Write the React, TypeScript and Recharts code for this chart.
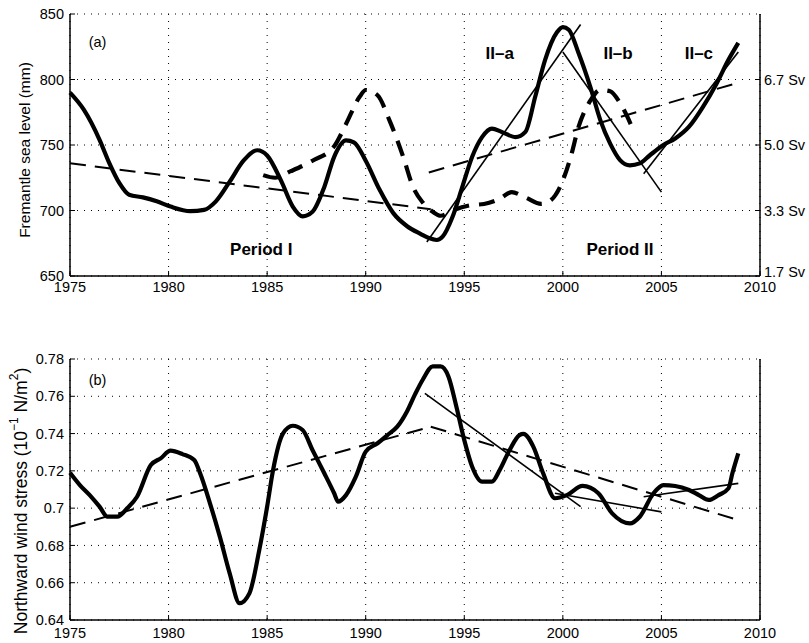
import {
  LineChart,
  Line,
  XAxis,
  YAxis,
  CartesianGrid,
  ReferenceDot,
} from 'recharts';

// (a) Fremantle sea level, smoothed (mm)
const seaYears = [
  1975.0, 1975.7, 1976.5, 1977.0, 1977.5, 1978.0, 1978.7, 1979.4, 1980.1, 1981.1,
  1981.8, 1982.4, 1983.1, 1983.8, 1984.5, 1985.0, 1985.7, 1986.3, 1986.8, 1987.3,
  1987.9, 1988.4, 1989.0, 1989.4, 1990.0, 1990.7, 1991.4, 1992.1, 1992.8, 1993.2,
  1993.6, 1993.9, 1994.4, 1994.9, 1995.4, 1995.9, 1996.4, 1996.9, 1997.6, 1998.1,
  1998.6, 1999.1, 1999.7, 2000.0, 2000.3, 2000.8, 2001.4, 2001.9, 2002.4, 2002.9,
  2003.4, 2003.9, 2004.4, 2005.1, 2005.7, 2006.4, 2007.1, 2007.8, 2008.4, 2008.9,
];
const seaLevel = [
  790, 777, 754, 736, 721, 712, 710, 707, 703, 699.5,
  700.5, 707, 722, 738, 746, 742, 723, 703, 695.5, 699,
  718, 741, 753.5, 752, 738, 716, 698, 688, 682, 679,
  677.5, 680, 695, 718, 741, 756, 762.5, 760, 756, 760,
  787, 815, 836, 840, 838, 820, 794, 769, 751, 738.5,
  734.5, 736, 742, 750, 755, 764, 779, 797, 815, 828,
];

// (a) transport, thick dashed, read against the right (Sv) axis
const transYears = [
  1984.8, 1985.4, 1986.2, 1987.3, 1988.4, 1989.0, 1989.7, 1990.0, 1990.6, 1991.2,
  1991.9, 1992.4, 1992.9, 1993.4, 1993.8, 1994.4, 1995.3, 1996.0, 1996.8, 1997.4,
  1998.1, 1998.9, 1999.4, 2000.0, 2000.4, 2000.8, 2001.4, 2001.9, 2002.4, 2002.9,
  2003.5,
];
const transport = [
  727, 725, 730, 738, 749, 766, 787, 792, 788, 769,
  741, 718, 706, 699, 696, 700, 704, 705, 709, 714,
  710, 705, 708, 723, 741, 764, 784, 792, 791, 782,
  764,
];

// (a) trend lines
const seaTrendIYears = [1975, 1993.3];
const seaTrendI = [736, 701];
const seaTrendIIYears = [1993.2, 2009];
const seaTrendII = [729, 798];
const seaFitAYears = [1993.1, 2000.9];
const seaFitA = [676, 842];
const seaFitBYears = [2000, 2005];
const seaFitB = [821, 714];
const seaFitCYears = [2004.1, 2008.9];
const seaFitC = [728, 821];

// (b) northward wind stress
const windYears = [
  1975.0, 1975.5, 1976.0, 1976.5, 1976.9, 1977.4, 1977.9, 1978.4, 1979.1, 1979.6,
  1980.1, 1980.7, 1981.3, 1981.6, 1982.1, 1982.6, 1983.1, 1983.6, 1984.1, 1984.6,
  1985.0, 1985.3, 1985.8, 1986.3, 1986.8, 1987.3, 1987.9, 1988.4, 1988.6, 1989.0,
  1989.5, 1990.0, 1990.6, 1991.1, 1991.6, 1992.1, 1992.5, 1992.9, 1993.4, 1993.8,
  1994.2, 1994.6, 1995.0, 1995.4, 1995.9, 1996.4, 1996.8, 1997.3, 1997.8, 1998.0,
  1998.5, 1999.0, 1999.6, 2000.2, 2001.0, 2001.8, 2002.5, 2003.4, 2003.9, 2004.6,
  2005.1, 2005.7, 2006.4, 2006.9, 2007.4, 2007.9, 2008.4, 2008.6, 2008.9,
];
const windStress = [
  0.719, 0.7124, 0.707, 0.7008, 0.6954, 0.6954, 0.6999, 0.7061, 0.7231, 0.7267,
  0.7308, 0.729, 0.7258, 0.7187, 0.7026, 0.6847, 0.665, 0.649, 0.6543, 0.6775,
  0.7008, 0.7204, 0.74, 0.7442, 0.7419, 0.7312, 0.7187, 0.708, 0.7035, 0.707,
  0.7169, 0.7303, 0.7348, 0.7392, 0.7437, 0.752, 0.761, 0.769, 0.776, 0.776,
  0.7705, 0.7544, 0.7365, 0.7222, 0.7142, 0.7142, 0.7205, 0.7312, 0.7392, 0.7398,
  0.733, 0.7187, 0.7053, 0.707, 0.7119, 0.708, 0.6972, 0.6918, 0.6954, 0.708,
  0.7124, 0.7119, 0.7097, 0.707, 0.7044, 0.707, 0.7106, 0.7187, 0.7294,
];

const windTrendIYears = [1975, 1993.3];
const windTrendI = [0.69, 0.7437];
const windTrendIIYears = [1993.3, 2008.9];
const windTrendII = [0.7437, 0.6936];
const windFitAYears = [1993.0, 2000.9];
const windFitA = [0.7616, 0.7008];
const windFitBYears = [1999.6, 2005.0];
const windFitB = [0.708, 0.698];
const windFitCYears = [2004.1, 2008.9];
const windFitC = [0.7061, 0.7133];

const yearTicks = [1975, 1980, 1985, 1990, 1995, 2000, 2005, 2010];
const seaTicks = [650, 700, 750, 800, 850];
const svTicks = [650, 700, 750, 800];
const svLabels = ['1.7 Sv', '3.3 Sv', '5.0 Sv', '6.7 Sv'];
const windTicks = [0.64, 0.66, 0.68, 0.7, 0.72, 0.74, 0.76, 0.78];

const toPoints = (xs: number[], ys: number[]) => xs.map((x, i) => ({ x, v: ys[i] }));

const FONT = '"Liberation Sans", Arial, Helvetica, sans-serif';
const tickStyle = { fill: '#000', fontSize: 14.5 };
const boxLine = { stroke: '#000', strokeWidth: 1.5 };
const inTick = { stroke: '#000', strokeWidth: 1 };
const IN = -5; // matlab style ticks pointing into the box

const TextMark = ({ text, size, bold }: { text: string; size: number; bold?: boolean }) =>
  (props: any) => {
    const vb = props.viewBox || {};
    const cx = (vb.x ?? 0) + (vb.width ?? 0) / 2;
    const cy = (vb.y ?? 0) + (vb.height ?? 0) / 2;
    return (
      <text
        x={cx}
        y={cy}
        textAnchor="middle"
        dominantBaseline="central"
        fontSize={size}
        fontWeight={bold ? 'bold' : 'normal'}
        fill="#000"
      >
        {text}
      </text>
    );
  };

// right hand Sv labels; the lowest one sits a little higher, as in the original
const SvTick = (props: any) => {
  const v = props.payload?.value;
  const label = svLabels[svTicks.indexOf(v)] ?? '';
  return (
    <text x={props.x} y={props.y + (v === 650 ? -4 : 0)} dy="0.355em" textAnchor="start" fontSize={14.5} fill="#000">
      {label}
    </text>
  );
};

const thick = { stroke: '#000', strokeWidth: 4.2, dot: false, isAnimationActive: false, strokeLinejoin: 'round' as const };
const thin = { stroke: '#000', strokeWidth: 1.6, dot: false, isAnimationActive: false, type: 'linear' as const };

const SeaPanel = () => (
  <LineChart width={809} height={300} margin={{ top: 14, right: 0, left: 0, bottom: 0 }}>
    <CartesianGrid strokeDasharray="1 6" stroke="#000" />
    <XAxis
      dataKey="x"
      type="number"
      domain={[1975, 2010]}
      ticks={yearTicks}
      interval={0}
      height={24}
      tickSize={IN}
      tickMargin={11}
      tick={tickStyle}
      tickLine={inTick}
      axisLine={boxLine}
      allowDuplicatedCategory={false}
    />
    <XAxis
      xAxisId="t"
      orientation="top"
      dataKey="x"
      type="number"
      domain={[1975, 2010]}
      ticks={yearTicks}
      interval={0}
      height={0}
      tickSize={IN}
      tick={false}
      tickLine={inTick}
      axisLine={boxLine}
    />
    <YAxis
      type="number"
      domain={[650, 850]}
      ticks={seaTicks}
      interval={0}
      width={70}
      tickSize={IN}
      tickMargin={11}
      tick={tickStyle}
      tickLine={inTick}
      axisLine={boxLine}
      label={() => (
        <text x={24} y={150} transform="rotate(-90 24 150)" textAnchor="middle" dominantBaseline="central" fontSize={15.5} fill="#000">
          Fremantle sea level (mm)
        </text>
      )}
    />
    <YAxis
      yAxisId="r"
      orientation="right"
      type="number"
      domain={[650, 850]}
      ticks={svTicks}
      interval={0}
      width={49}
      tickSize={IN}
      tickMargin={9}
      tick={SvTick}
      tickLine={inTick}
      axisLine={boxLine}
    />
    <Line xAxisId="t" data={toPoints(seaTrendIYears, seaTrendI)} dataKey="v" {...thin} strokeWidth={2} strokeDasharray="16 9" />
    <Line xAxisId="t" data={toPoints(seaTrendIIYears, seaTrendII)} dataKey="v" {...thin} strokeWidth={2} strokeDasharray="16 9" />
    <Line data={toPoints(seaFitAYears, seaFitA)} dataKey="v" {...thin} />
    <Line data={toPoints(seaFitBYears, seaFitB)} dataKey="v" {...thin} />
    <Line data={toPoints(seaFitCYears, seaFitC)} dataKey="v" {...thin} />
    <Line yAxisId="r" data={toPoints(transYears, transport)} dataKey="v" type="monotone" {...thick} strokeDasharray="16 10" />
    <Line data={toPoints(seaYears, seaLevel)} dataKey="v" type="monotone" {...thick} />
    <ReferenceDot x={1976.4} y={828.5} r={1} fill="none" stroke="none" label={TextMark({ text: '(a)', size: 14.5 })} />
    <ReferenceDot x={1984.7} y={670} r={1} fill="none" stroke="none" label={TextMark({ text: 'Period I', size: 17, bold: true })} />
    <ReferenceDot x={2002.9} y={670} r={1} fill="none" stroke="none" label={TextMark({ text: 'Period II', size: 17, bold: true })} />
    <ReferenceDot x={1996.8} y={820} r={1} fill="none" stroke="none" label={TextMark({ text: 'II–a', size: 17, bold: true })} />
    <ReferenceDot x={2002.8} y={820} r={1} fill="none" stroke="none" label={TextMark({ text: 'II–b', size: 17, bold: true })} />
    <ReferenceDot x={2006.9} y={820} r={1} fill="none" stroke="none" label={TextMark({ text: 'II–c', size: 17, bold: true })} />
  </LineChart>
);

const WindPanel = () => (
  <LineChart width={809} height={343} margin={{ top: 59, right: 0, left: 0, bottom: 0 }}>
    <CartesianGrid strokeDasharray="1 6" stroke="#000" />
    <XAxis
      dataKey="x"
      type="number"
      domain={[1975, 2010]}
      ticks={yearTicks}
      interval={0}
      height={23}
      tickSize={IN}
      tickMargin={13}
      tick={tickStyle}
      tickLine={inTick}
      axisLine={boxLine}
      allowDuplicatedCategory={false}
    />
    <XAxis
      xAxisId="t"
      orientation="top"
      dataKey="x"
      type="number"
      domain={[1975, 2010]}
      ticks={yearTicks}
      interval={0}
      height={0}
      tickSize={IN}
      tick={false}
      tickLine={inTick}
      axisLine={boxLine}
    />
    <YAxis
      type="number"
      domain={[0.64, 0.78]}
      ticks={windTicks}
      interval={0}
      width={70}
      tickSize={IN}
      tickMargin={11}
      tick={tickStyle}
      tickLine={inTick}
      tickFormatter={(v: number) => String(Number(v.toFixed(2)))}
      axisLine={boxLine}
      label={() => (
        <text x={21} y={201} transform="rotate(-90 21 201)" textAnchor="middle" dominantBaseline="central" fontSize={17.5} fill="#000">
          Northward wind stress (10<tspan dy={-7} fontSize={12}>−1</tspan>
          <tspan dy={7}> N/m</tspan>
          <tspan dy={-7} fontSize={12}>2</tspan>
          <tspan dy={7}>)</tspan>
        </text>
      )}
    />
    <YAxis
      yAxisId="r"
      orientation="right"
      type="number"
      domain={[0.64, 0.78]}
      ticks={windTicks}
      interval={0}
      width={49}
      tickSize={IN}
      tick={false}
      tickLine={inTick}
      axisLine={boxLine}
    />
    <Line xAxisId="t" yAxisId="r" data={toPoints(windTrendIYears, windTrendI)} dataKey="v" {...thin} strokeWidth={2} strokeDasharray="16 9" />
    <Line xAxisId="t" yAxisId="r" data={toPoints(windTrendIIYears, windTrendII)} dataKey="v" {...thin} strokeWidth={2} strokeDasharray="16 9" />
    <Line data={toPoints(windFitAYears, windFitA)} dataKey="v" {...thin} />
    <Line data={toPoints(windFitBYears, windFitB)} dataKey="v" {...thin} />
    <Line data={toPoints(windFitCYears, windFitC)} dataKey="v" {...thin} />
    <Line data={toPoints(windYears, windStress)} dataKey="v" type="monotone" {...thick} />
    <ReferenceDot x={1976.4} y={0.7687} r={1} fill="none" stroke="none" label={TextMark({ text: '(b)', size: 14.5 })} />
  </LineChart>
);

export default function App() {
  return (
    <div style={{ position: 'absolute', left: 0, top: 0, width: 809, height: 643, background: '#fff', fontFamily: FONT }}>
      <SeaPanel />
      <WindPanel />
    </div>
  );
}
